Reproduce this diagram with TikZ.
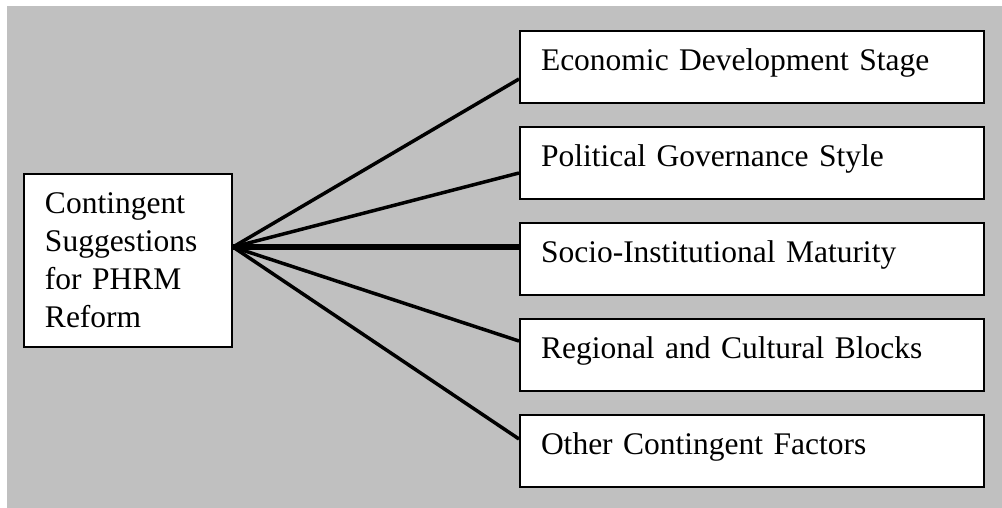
\documentclass[tikz,border=0pt]{standalone}
\usepackage{fontspec}
\setmainfont{Liberation Serif}
\usetikzlibrary{positioning, calc}
\definecolor{panelgray}{HTML}{C0C0C0}
\tikzset{
    factor/.style={rectangle, draw, fill=white, line width=2pt, text width=422pt, inner xsep=21pt, inner ysep=0pt, minimum height=72pt, align=left, text height=21pt, text depth=14pt},
    topic/.style={rectangle, draw, fill=white, line width=2pt, text width=166pt, inner xsep=21pt, inner ysep=0pt, minimum height=173pt, align=left},
    link/.style={line width=3.5pt},
}

\begin{document}
\begin{tikzpicture}[x=1pt, y=1pt, node distance=22pt, font=\fontsize{31.5}{38}\selectfont]
    \useasboundingbox (0,0) rectangle (1002,-508);
    \fill[panelgray] (7,-6) rectangle (1002,-508);

    % factors on the right
    \node[factor, anchor=north west] (econ) at (519,-30) {Economic Development Stage};
    \node[factor, below=of econ] (polit) {Political Governance Style};
    \node[factor, below=of polit] (socio) {Socio-Institutional Maturity};
    \node[factor, below=of socio] (region) {Regional and Cultural Blocks};
    \node[factor, below=of region] (other) {Other Contingent Factors};

    % central box
    \node[topic, anchor=north west] (topic) at (23,-173) {Contingent\\Suggestions\\for PHRM\\Reform};
    \coordinate (hub) at ([yshift=13.5pt]topic.east);

    \draw[link] (hub) -- ([yshift=-12pt]econ.west);
    \draw[link] (hub) -- ([yshift=-10pt]polit.west);
    \draw[link, line width=5.5pt] (hub) -- (hub -| socio.west);
    \draw[link] (hub) -- ([yshift=14pt]region.west);
    \draw[link] (hub) -- ([yshift=12pt]other.west);
\end{tikzpicture}
\end{document}
